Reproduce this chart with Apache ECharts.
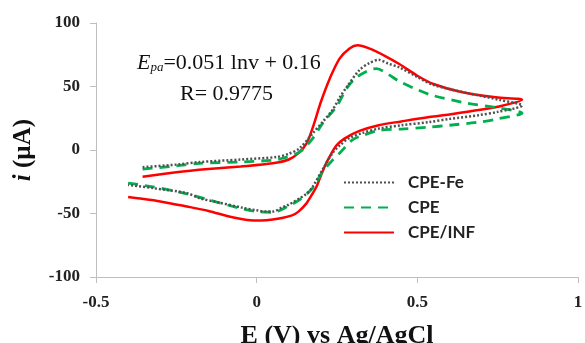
<!DOCTYPE html>
<html>
<head>
<meta charset="utf-8">
<script src="https://cdn.jsdelivr.net/npm/echarts@6/dist/echarts.min.js"></script>
<style>
  html, body { margin: 0; padding: 0; background: #fff; }
  #cv { width: 585px; height: 343px; }
</style>
</head>
<body>
<div id="cv"></div>
<script>
// potential E (V) vs current i (uA)
var xTicks = [-0.5, 0, 0.5, 1];
var yTicks = [-100, -50, 0, 50, 100];
var seriesNames = ['CPE-Fe', 'CPE', 'CPE/INF'];

var feFwd = [[-0.355,-13.5],[-0.25,-11.5],[-0.177,-9.5],[-0.05,-7.5],[0.062,-5.5],[0.1,-3],[0.134,1.5],[0.174,13],
  [0.205,22],[0.236,31.5],[0.26,42],[0.28,49.5],[0.32,63],[0.351,68.5],[0.38,71],[0.41,68],[0.444,65],[0.5,57.5],
  [0.547,51.5],[0.6,48],[0.652,45],[0.755,39.5],[0.826,35]];
var feRev = [[0.826,35],[0.75,30],[0.693,27.5],[0.6,24.5],[0.537,22],[0.45,19.5],[0.382,17],[0.33,13.5],[0.289,9.5],
  [0.26,4],[0.236,-2.5],[0.205,-15.5],[0.174,-29],[0.155,-34.5],[0.134,-38],[0.1,-43],[0.081,-45],[0.05,-48.5],
  [0.031,-48.5],[0,-47.5],[-0.043,-45.5],[-0.124,-41],[-0.177,-38],[-0.217,-34],[-0.323,-30],[-0.40,-27.5]];

var cpeFwd = [[-0.355,-15],[-0.25,-12.5],[-0.177,-10.5],[-0.05,-9.5],[0.05,-8],[0.081,-6.5],[0.134,-1.5],[0.174,9],
  [0.205,21],[0.248,34],[0.28,48.5],[0.31,57],[0.351,63],[0.373,64],[0.41,59.5],[0.444,54],[0.5,47.5],[0.547,43],
  [0.652,37],[0.755,33],[0.826,29]];
var cpeRev = [[0.826,29],[0.75,24.5],[0.693,22],[0.6,19.5],[0.537,18],[0.45,16.5],[0.382,15.5],[0.33,11.5],[0.298,8],
  [0.258,-2.5],[0.236,-8],[0.205,-17],[0.174,-30],[0.134,-39],[0.1,-44],[0.05,-49],[0,-48.5],[-0.05,-46],
  [-0.124,-41],[-0.217,-34.5],[-0.323,-29],[-0.40,-26]];

var infFwd = [[-0.355,-21],[-0.25,-17.5],[-0.15,-15],[-0.05,-13],[0.05,-10.5],[0.1,-7.5],[0.13,-2.5],[0.155,5],
  [0.175,18],[0.2,38],[0.227,56],[0.258,72],[0.289,80],[0.314,82.5],[0.35,80],[0.4,74],[0.445,67.5],[0.5,58.5],
  [0.55,52],[0.64,45.5],[0.745,41.5],[0.826,39.5]];
var infRev = [[0.826,39.5],[0.75,34],[0.69,31.5],[0.6,28],[0.537,26],[0.45,22.5],[0.38,19.5],[0.32,15],[0.273,9],
  [0.248,3.5],[0.232,-3],[0.217,-10],[0.2,-20],[0.186,-29],[0.17,-36],[0.155,-42],[0.13,-48.5],[0.11,-51.5],
  [0.07,-54],[0.03,-55.3],[-0.01,-55.5],[-0.075,-53],[-0.15,-48],[-0.217,-44.5],[-0.3,-40.5],[-0.37,-38],[-0.40,-37]];

var serif = '"Liberation Serif", "Times New Roman", serif';

var chart = echarts.init(document.getElementById('cv'), null, { width: 585, height: 343 });

var axisCommon = {
  axisLine: { onZero: false, lineStyle: { color: '#bfbfbf', width: 1 } },
  axisTick: { show: true, inside: false, length: 6, lineStyle: { color: '#bfbfbf' } },
  splitLine: { show: false },
  axisLabel: { color: '#222', fontFamily: serif, fontWeight: 'bold', fontSize: 17 }
};

var option = {
  animation: false,
  backgroundColor: '#fff',
  grid: { left: 96, right: 7, top: 23, bottom: 66, outerBoundsMode: 'none', containLabel: false },
  legend: {
    orient: 'vertical',
    left: 338,
    top: 169,
    itemWidth: 50,
    itemHeight: 14,
    itemGap: 8,
    data: seriesNames,
    itemStyle: { opacity: 0 },
    textStyle: { fontFamily: 'Lato, "Open Sans", sans-serif', fontWeight: 'bold', fontSize: 17, color: '#222', padding: [0, 0, 0, 9] }
  },
  xAxis: Object.assign({}, axisCommon, {
    type: 'value',
    min: xTicks[0],
    max: xTicks[xTicks.length - 1],
    interval: 0.5,
    axisLabel: Object.assign({}, axisCommon.axisLabel, { margin: 17 }),
    name: 'E (V) vs Ag/AgCl',
    nameLocation: 'middle',
    nameGap: 46,
    nameTextStyle: { fontFamily: serif, fontWeight: 'bold', fontSize: 26, color: '#111' }
  }),
  yAxis: Object.assign({}, axisCommon, {
    type: 'value',
    min: yTicks[0],
    max: yTicks[yTicks.length - 1],
    interval: 50,
    axisLabel: Object.assign({}, axisCommon.axisLabel, { margin: 16 }),
    name: '{it|i} (µA)',
    nameLocation: 'middle',
    nameGap: 60,
    nameRotate: 90,
    nameTextStyle: {
      fontFamily: serif, fontWeight: 'bold', fontSize: 25, color: '#111',
      rich: { it: { fontFamily: serif, fontWeight: 'bold', fontStyle: 'italic', fontSize: 25, color: '#111' } }
    }
  }),
  graphic: [
    {
      type: 'text', left: 137, top: 52,
      style: {
        text: '{e|E}{s|pa}{t|=0.051 lnv + 0.16}',
        rich: {
          e: { fontFamily: serif, fontStyle: 'italic', fontSize: 22, fill: '#111' },
          s: { fontFamily: serif, fontStyle: 'italic', fontSize: 13, fill: '#111', padding: [10, 0, 0, 0] },
          t: { fontFamily: serif, fontSize: 22, fill: '#111' }
        }
      }
    },
    {
      type: 'text', left: 180, top: 83,
      style: { text: 'R= 0.9775', font: '22px ' + serif, fill: '#111' }
    }
  ],
  series: [
    {
      name: seriesNames[0], type: 'line', symbol: 'none', smooth: 0.3, z: 3,
      data: feFwd.concat(feRev.slice(1)),
      lineStyle: { color: '#505050', width: 2.5, type: [2, 2] },
      itemStyle: { color: '#505050' }
    },
    {
      name: seriesNames[1], type: 'line', symbol: 'none', smooth: 0.3, z: 2,
      data: cpeFwd.concat(cpeRev.slice(1)),
      lineStyle: { color: '#00b050', width: 2.8, type: [10, 7] },
      itemStyle: { color: '#00b050' }
    },
    {
      name: seriesNames[2], type: 'line', symbol: 'none', smooth: 0.3, z: 1,
      data: infFwd.concat(infRev.slice(1)),
      lineStyle: { color: '#ff0000', width: 2.5 },
      itemStyle: { color: '#ff0000' }
    }
  ]
};

chart.setOption(option);
</script>
</body>
</html>
